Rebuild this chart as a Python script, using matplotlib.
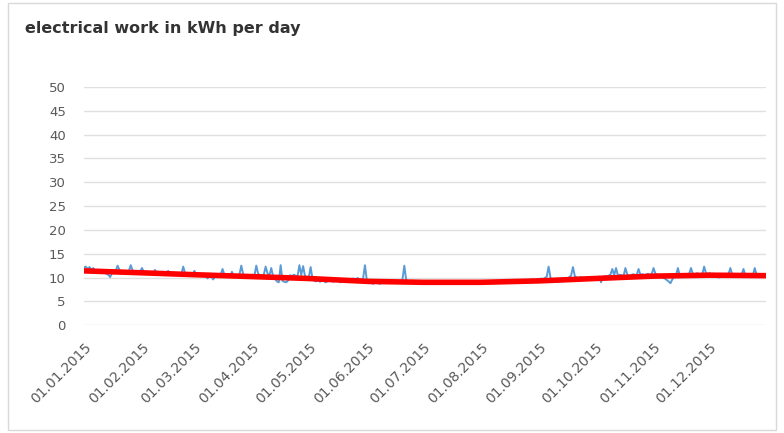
import matplotlib
matplotlib.use('Agg')
import matplotlib.pyplot as plt
import matplotlib.dates as mdates
from matplotlib.patches import Rectangle
import pandas as pd
import numpy as np

# daily values in kWh
jan = [12.1, 12.3, 11.8, 12.2, 11.6, 12.0, 11.4, 11.2, 11.5, 11.0,
       11.3, 11.1, 10.8, 10.6, 10.1, 10.9, 11.2, 11.4, 12.5, 11.6,
       11.1, 11.3, 11.0, 11.2, 11.4, 12.6, 11.5, 11.2, 11.0, 11.1, 11.3]
feb = [12.0, 11.2, 10.9, 11.0, 10.8, 10.9, 11.0, 11.6, 10.8, 10.7,
       10.9, 10.8, 10.6, 10.9, 11.4, 10.7, 10.8, 10.6, 10.7, 10.9,
       10.8, 10.6, 12.3, 10.9, 10.7, 10.6, 10.8, 10.7]
mar = [11.4, 10.6, 10.5, 10.7, 10.4, 10.6, 10.3, 9.8, 10.4, 10.2,
       9.6, 10.3, 10.5, 10.4, 10.6, 11.8, 10.5, 10.3, 10.4, 10.2,
       11.2, 10.4, 10.3, 10.5, 10.6, 12.5, 10.7, 10.4, 10.3, 10.5, 10.4]
apr = [10.6, 10.4, 12.5, 10.8, 10.5, 10.3, 10.6, 12.3, 10.9, 10.4,
       12.0, 10.2, 9.8, 9.2, 9.0, 12.6, 9.3, 9.1, 9.0, 9.4,
       10.5, 10.3, 10.6, 10.4, 10.2, 12.6, 10.5, 12.4, 10.3, 10.1]
may = [10.0, 12.2, 9.8, 9.3, 9.2, 9.5, 9.1, 9.4, 9.3, 9.0,
       9.2, 9.6, 9.4, 9.1, 9.3, 9.5, 9.2, 9.0, 9.4, 9.3,
       9.6, 9.2, 9.5, 9.7, 9.8, 9.6, 9.9, 9.7, 9.5, 9.8, 12.6]
jun = [9.4, 8.8, 8.9, 8.7, 8.8, 8.9, 8.8, 8.7, 8.9, 8.8,
       9.0, 9.1, 9.0, 8.9, 9.0, 9.1, 9.0, 9.0, 9.1, 9.6,
       12.5, 9.5, 9.2, 9.1, 9.0, 9.0, 9.1, 9.0, 8.9, 9.0]
jul = [9.0, 9.1, 9.0, 8.9, 9.0, 9.0, 9.1, 9.0, 8.9, 9.0,
       9.0, 9.1, 9.0, 9.0, 8.9, 9.0, 9.1, 9.0, 9.0, 8.9,
       9.0, 9.0, 9.1, 9.0, 8.9, 9.0, 9.0, 9.1, 9.0, 9.0, 8.9]
aug = [9.0, 9.1, 9.0, 9.0, 9.1, 9.0, 9.1, 9.0, 9.0, 9.1,
       9.0, 9.2, 9.1, 9.0, 9.2, 9.1, 9.0, 9.2, 9.3, 9.1,
       9.2, 9.4, 9.3, 9.2, 9.5, 9.4, 9.3, 9.6, 9.4, 9.5, 9.7]
sep = [9.6, 9.8, 9.7, 9.9, 10.2, 12.3, 10.0, 9.3, 9.2, 9.4,
       9.1, 9.3, 9.2, 9.5, 9.3, 9.6, 10.1, 10.4, 12.2, 10.3,
       10.0, 9.9, 10.1, 10.0, 9.8, 10.0, 10.1, 9.9, 10.0, 10.1]
oct_ = [10.1, 10.0, 10.2, 9.0, 10.1, 10.3, 10.2, 10.4, 10.6, 11.8,
        10.5, 12.0, 10.4, 10.6, 10.5, 10.3, 12.0, 10.6, 10.4, 10.5,
        10.7, 10.6, 10.5, 11.8, 10.6, 10.7, 10.5, 10.6, 10.8, 10.6, 10.7]
nov = [12.0, 10.8, 10.6, 10.5, 10.3, 10.0, 9.8, 9.5, 9.2, 8.8,
       9.6, 10.2, 10.5, 12.0, 10.4, 10.6, 10.7, 10.5, 10.6, 10.8,
       12.0, 10.7, 10.5, 10.9, 10.8, 10.6, 10.7, 12.3, 10.9, 10.8]
dec = [10.9, 10.7, 10.8, 10.4, 10.1, 10.0, 10.2, 10.3, 10.6, 10.8,
       10.7, 12.0, 10.6, 10.4, 10.2, 10.5, 10.3, 10.6, 11.8, 10.4,
       10.3, 10.5, 10.2, 10.4, 12.0, 10.6, 10.3, 10.5, 10.4, 10.6, 10.5]

# red trend line, read at the first of each month and at year end
trend_dates = ['2015-01-01', '2015-02-01', '2015-03-01', '2015-04-01', '2015-05-01',
               '2015-06-01', '2015-07-01', '2015-08-01', '2015-09-01', '2015-10-01',
               '2015-11-01', '2015-12-01', '2015-12-31']
trend_vals = [11.4, 11.0, 10.6, 10.2, 9.8, 9.2, 9.0, 9.0, 9.3, 9.8, 10.3, 10.5, 10.4]

title = 'electrical work in kWh per day'
yticks = [0, 5, 10, 15, 20, 25, 30, 35, 40, 45, 50]

daily = jan + feb + mar + apr + may + jun + jul + aug + sep + oct_ + nov + dec
days = pd.date_range('2015-01-01', periods=len(daily), freq='D')
month_starts = pd.date_range('2015-01-01', '2015-12-01', freq='MS')

fig = plt.figure(figsize=(7.84, 4.33), dpi=100)
ax = fig.add_axes([0.107, 0.249, 0.870, 0.550])

ax.plot(days, daily, color='#5B9BD5', lw=1.4, zorder=3)
ax.plot(pd.to_datetime(trend_dates), trend_vals, color='#FF0000', lw=4, zorder=4,
        solid_capstyle='butt')

ax.set_ylim(0, 50)
ax.set_yticks(yticks)
ax.set_xlim(pd.Timestamp('2015-01-01'), pd.Timestamp('2015-12-31'))
ax.set_xticks(month_starts)
ax.xaxis.set_major_formatter(mdates.DateFormatter('%d.%m.%Y'))

for s in ax.spines.values():
    s.set_visible(False)
ax.grid(axis='y', color='#E0E0E0', lw=1.0)
ax.set_axisbelow(True)
ax.tick_params(length=0, colors='#595959', labelsize=9.5)
ax.tick_params(axis='y', pad=13)
ax.tick_params(axis='x', pad=11, labelsize=10)
for lab in ax.get_xticklabels():
    lab.set_rotation(45)
    lab.set_ha('right')
    lab.set_va('top')
    lab.set_rotation_mode('anchor')

fig.text(0.032, 0.935, title, fontsize=11.5, fontweight='bold', color='#333333', va='center')
fig.patches.append(Rectangle((0.010, 0.007), 0.980, 0.986, transform=fig.transFigure,
                             fill=False, edgecolor='#D9D9D9', lw=1))

fig.savefig('out.png', dpi=100)
